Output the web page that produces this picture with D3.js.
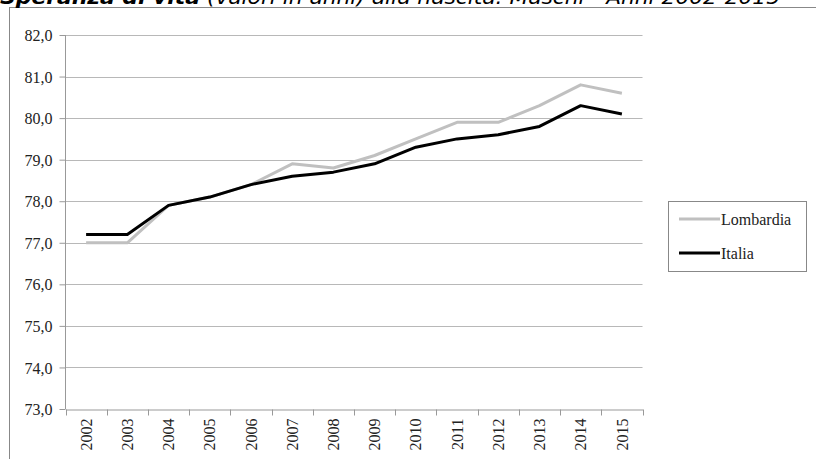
<!DOCTYPE html>
<html><head><meta charset="utf-8">
<script src="https://cdn.jsdelivr.net/npm/d3@7"></script>
<style>body{margin:0;background:#fff;}svg{display:block;}
.serif{font-family:"Liberation Serif","Times New Roman",serif !important;}
</style>
</head><body>
<svg id="c" width="816" height="459"></svg>
<script>
const years = ["2002","2003","2004","2005","2006","2007","2008","2009","2010","2011","2012","2013","2014","2015"];
const lombardia = [77.0,77.0,77.9,78.1,78.4,78.9,78.8,79.1,79.5,79.9,79.9,80.3,80.8,80.6];
const italia = [77.2,77.2,77.9,78.1,78.4,78.6,78.7,78.9,79.3,79.5,79.6,79.8,80.3,80.1];
const yTicks = [73,74,75,76,77,78,79,80,81,82];
const seriesNames = ["Lombardia","Italia"];
const seriesColors = ["#c0c0c0","#000000"];

const svg = d3.select("#c");
// frame
svg.append("line").attr("x1",9).attr("x2",816).attr("y1",7.5).attr("y2",7.5).attr("stroke","#888").attr("stroke-width",1);
svg.append("line").attr("x1",9.5).attr("x2",9.5).attr("y1",7).attr("y2",459).attr("stroke","#888").attr("stroke-width",1);

// title
const t = svg.append("text").attr("x",0).attr("y",4).attr("fill","#000")
  .style("font-family","'DejaVu Sans', Verdana, sans-serif").style("font-size","20px");
const t1 = t.append("tspan").style("font-weight","bold").style("font-style","italic").text("Speranza di vita");
const t2 = t.append("tspan").style("font-style","italic").text(" (valori in anni) alla nascita. Maschi - Anni 2002-2015");
const w1 = t1.node().getComputedTextLength();
t1.attr("textLength",200).attr("lengthAdjust","spacingAndGlyphs");
t2.attr("textLength",580).attr("lengthAdjust","spacingAndGlyphs");

const x = d3.scaleBand().domain(years).range([65.5,642.5]);
const y = d3.scaleLinear().domain([73,82]).range([409,35]);

// gridlines
svg.append("g").selectAll("line").data(yTicks.slice(1)).join("line")
  .attr("x1",65.5).attr("x2",642.5)
  .attr("y1",d=>Math.round(y(d))+0.5).attr("y2",d=>Math.round(y(d))+0.5)
  .attr("stroke","#b8b8b8").attr("stroke-width",1.2);

// y axis
const ya = svg.append("g").attr("transform","translate(65.5,0)")
  .call(d3.axisLeft(y).tickValues(yTicks).tickSize(6).tickFormat(d=>d3.format(".1f")(d).replace(".",",")));
ya.attr("font-family",null).attr("font-size",null);
ya.select(".domain").attr("stroke","#999").attr("d","M0,35V409");
ya.selectAll(".tick line").attr("stroke","#999");
ya.selectAll(".tick text").attr("class","serif").style("font-size","16px").attr("fill","#222").attr("x",-13).attr("dy","0.35em");

// x axis
const xa = svg.append("g").attr("transform","translate(0,409.5)")
  .call(d3.axisBottom(x).tickSize(0).tickSizeOuter(0));
xa.attr("font-family",null).attr("font-size",null);
xa.select(".domain").attr("stroke","#999");
xa.selectAll(".tick text").attr("class","serif").style("font-size","16px").attr("fill","#222")
  .attr("transform","rotate(-90)").attr("text-anchor","end").attr("x",-9).attr("y",0).attr("dy","0.35em");
// band boundary ticks
xa.append("g").selectAll("line").data(years.concat(["_end"])).join("line")
  .attr("x1",(d,i)=>Math.round(65.5+i*x.step())+0.5).attr("x2",(d,i)=>Math.round(65.5+i*x.step())+0.5)
  .attr("y1",0).attr("y2",6).attr("stroke","#999");

// lines
const line = d3.line().x((d,i)=>x(years[i])+x.bandwidth()/2).y(d=>y(d));
[lombardia, italia].forEach((s,k)=>{
  svg.append("path").datum(s).attr("d",line).attr("fill","none")
    .attr("stroke",seriesColors[k]).attr("stroke-width",3).attr("stroke-linejoin","round");
});

// legend
const lg = svg.append("g");
lg.append("rect").attr("x",668.5).attr("y",201.5).attr("width",138).attr("height",70)
  .attr("fill","#fff").attr("stroke","#888").attr("stroke-width",1);
seriesNames.forEach((n,k)=>{
  const yy = 219 + k*34;
  lg.append("line").attr("x1",679).attr("x2",720).attr("y1",yy).attr("y2",yy).attr("stroke",seriesColors[k]).attr("stroke-width",3);
  lg.append("text").attr("class","serif").attr("x",721).attr("y",yy).attr("dy","0.35em")
    .style("font-size","16px").attr("fill","#222").text(n);
});
</script>
</body></html>
